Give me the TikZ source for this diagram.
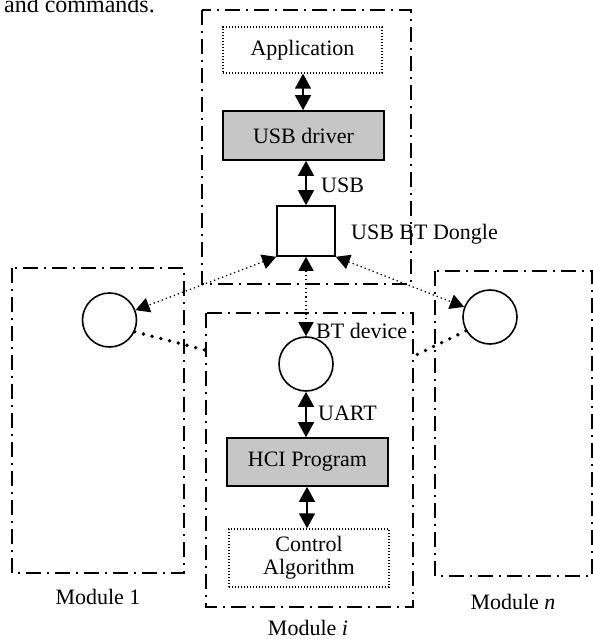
\documentclass[tikz,border=0pt]{standalone}
\usepackage{fontspec}
\setmainfont{Liberation Serif}
\usetikzlibrary{arrows.meta}
\begin{document}
\begin{tikzpicture}[x=1pt,y=-1pt,
  txt/.style={font=\fontsize{22}{25}\selectfont, inner sep=0pt},
  dashdot/.style={line width=1.8pt, dash pattern=on 15pt off 6pt on 2pt off 6pt},
  solidbox/.style={draw, line width=1.6pt, inner sep=0pt},
  dotbox/.style={draw, line width=1.3pt, dash pattern=on 1.3pt off 1.7pt, inner sep=0pt},
  graybox/.style={solidbox, fill=gray!45},
  circ/.style={draw, circle, line width=1.6pt, minimum size=54pt, inner sep=0pt},
  dbl/.style={line width=1.4pt, {Triangle[width=16pt,length=15pt]}-{Triangle[width=16pt,length=15pt]}},
  dotarrow/.style={line width=1.3pt, dash pattern=on 1.3pt off 3pt, {Triangle[width=15pt,length=14pt]}-{Triangle[width=15pt,length=14pt]}},
  bigdots/.style={line width=3.8pt, line cap=round, dash pattern=on 0pt off 9pt}
]
\useasboundingbox (0,0) rectangle (593,639);
\clip (0,0) rectangle (593,639);

% partial caption text at top
\node[font=\fontsize{24}{28}\selectfont, inner sep=0pt, anchor=base east] (cap) at (155,13) {and commands.};

% group frames
\draw[dashdot] (202,10) rectangle (411,284);
\draw[dashdot] (12,268) rectangle (184,573);
\draw[dashdot] (206,313) rectangle (413,607);
\draw[dashdot] (435,271) rectangle (592,576);

% nodes
\node[dotbox, minimum width=159pt, minimum height=46pt, txt] (app) at (302.5,50) {Application};
\node[graybox, minimum width=161pt, minimum height=49pt, txt] (usbd) at (303.5,135.5) {USB driver};
\node[solidbox, minimum width=58pt, minimum height=50pt] (dongle) at (306,231) {};
\node[circ] (ci) at (306,364) {};
\node[circ] (c1) at (109.5,320) {};
\node[circ] (cn) at (490,317) {};
\node[graybox, minimum width=161pt, minimum height=48pt, txt] (hci) at (307.5,462) {HCI Program};
\node[dotbox, minimum width=160pt, minimum height=58pt, txt, align=center] (ctrl) at (309,558) {Control\\[-2pt]Algorithm};

% labels
\node[txt, anchor=west] (lusb) at (321,185) {USB};
\node[txt, anchor=west] (ldongle) at (351,234) {USB BT Dongle};
\node[txt, anchor=west] (lbt) at (316,331) {BT device};
\node[txt, anchor=west] (luart) at (318,413) {UART};
\node[txt] (lm1) at (98,597) {Module 1};
\node[txt, anchor=base] (lmi) at (308,635) {Module \textit{i}};
\node[txt] (lmn) at (513,602) {Module \textit{n}};

% solid double arrows
\draw[dbl] (app.south -| 303,0) -- (usbd.north -| 303,0);
\draw[dbl] (usbd.south -| 306,0) -- (dongle.north);
\draw[dbl] (ci.south) -- (hci.north -| ci.south);
\draw[dbl] (hci.south -| 307,0) -- (ctrl.north -| 307,0);

% dotted double arrows
\draw[dotarrow] (dongle.south west) -- (c1);
\draw[dotarrow] (dongle.south east) -- (cn);
\draw[dotarrow] (dongle.south) -- (ci.north);

% thick dotted links
\coordinate (mil) at (205,350);
\coordinate (mir) at (414,356);
\draw[bigdots] (c1.-25) -- (mil);
\draw[bigdots] (cn.210) -- (mir);
\end{tikzpicture}
\end{document}
